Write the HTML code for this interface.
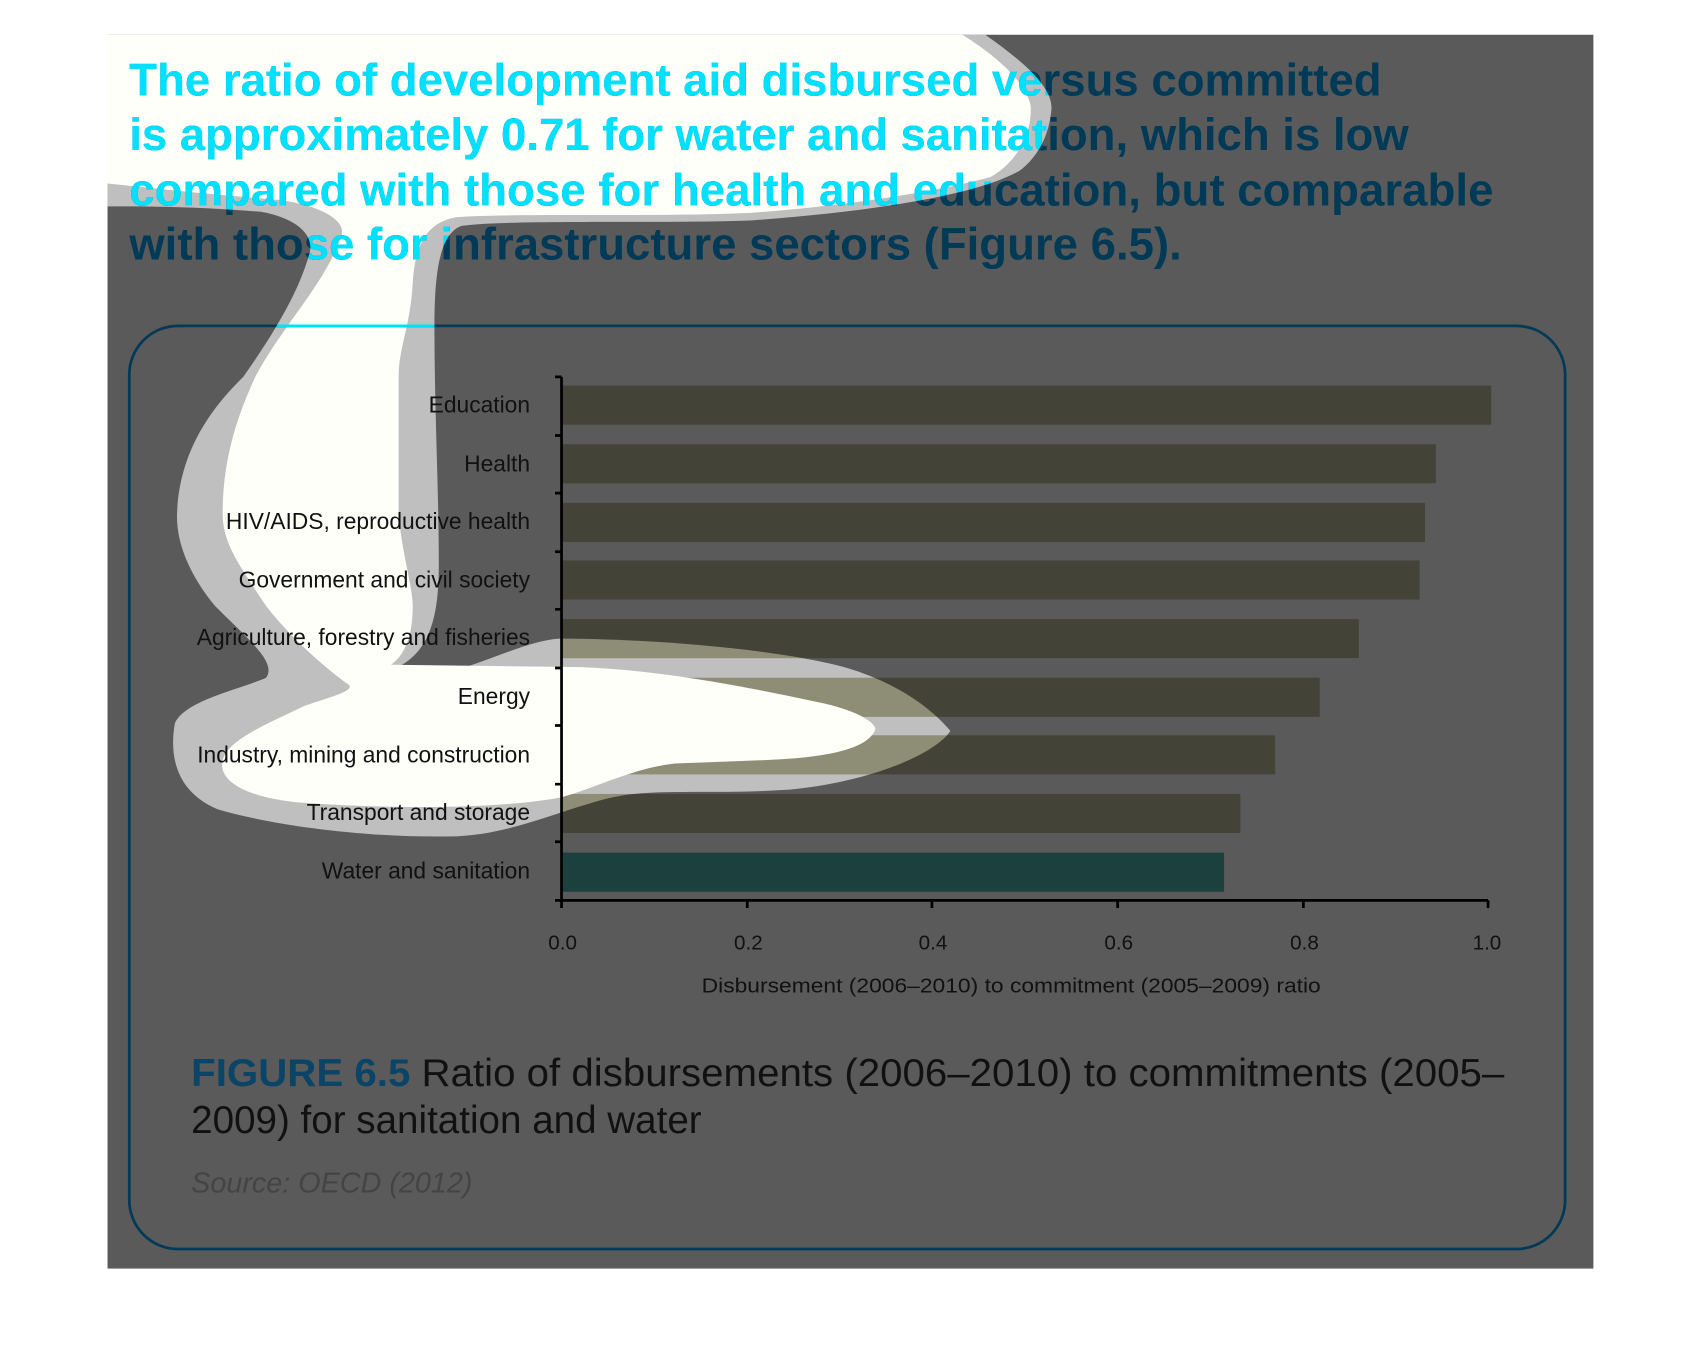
<!DOCTYPE html>
<html><head><meta charset="utf-8"><style>
html,body{margin:0;padding:0;background:#fff;}
svg{display:block;}
</style></head><body>
<svg width="1702" height="1362" viewBox="0 0 1567 1254" preserveAspectRatio="none" xmlns="http://www.w3.org/2000/svg">
<defs>
<clipPath id="blob"><path id="outerp" d="M99,32 L907,32 C940,55 970,80 968,101 C966,125 955,145 939,157 C900,180 800,195 691,203 C600,206 470,202 425,208 C405,215 400,250 400,300 C400,380 404,450 404,520 C404,570 395,600 365,615 C355,622 362,628 380,626 C430,620 480,590 515,588 C600,588 720,598 780,615 C830,630 860,655 875,673 C860,695 800,720 727,727 C650,732 600,725 560,735 C510,748 470,768 420,770 C340,772 250,760 200,745 C165,730 155,700 161,666 C170,645 220,635 245,624 C255,610 230,590 198,558 C175,530 162,500 163,473 C165,420 190,380 224,347 C250,310 275,270 285,233 C290,215 270,200 240,195 C180,190 130,190 99,190 Z"/></clipPath>
</defs>
<rect x="99" y="32" width="1368" height="1136" fill="#5a5a5a"/>
<use href="#outerp" fill="#bfbfbf"/>
<g style="mix-blend-mode:multiply">
<rect x="517" y="355" width="856" height="36" fill="#bdbd9e"/>
<rect x="517" y="409" width="805" height="36" fill="#bdbd9e"/>
<rect x="517" y="463" width="795" height="36" fill="#bdbd9e"/>
<rect x="517" y="516" width="790" height="36" fill="#bdbd9e"/>
<rect x="517" y="570" width="734" height="36" fill="#bdbd9e"/>
<rect x="517" y="624" width="698" height="36" fill="#bdbd9e"/>
<rect x="517" y="677" width="657" height="36" fill="#bdbd9e"/>
<rect x="517" y="731" width="625" height="36" fill="#bdbd9e"/>
<rect x="517" y="785" width="610" height="36" fill="#4fb5b0"/>
</g>
<path d="M99,32 L886,32 C915,50 945,75 949,98 C950,125 935,150 912,163 C880,172 800,188 691,196 C600,200 470,196 420,200 C390,205 382,230 380,260 C378,300 367,320 367,347 C367,400 367,430 367,473 C370,510 380,540 380,558 C380,590 370,605 360,612 L517,614 C600,614 700,635 760,648 C790,655 805,665 806,671 C800,690 760,698 700,700 L621,703 C580,708 550,725 517,734 C460,745 360,745 277,739 C230,735 200,720 205,700 C210,680 250,665 280,650 C310,640 330,635 319,629 C300,615 270,590 245,558 C220,520 205,500 205,473 C205,420 220,380 235,347 C260,300 300,260 314,218 C320,205 300,190 257,184 C180,178 130,172 99,169 Z" fill="#fffffa"/>
<g font-family="'Liberation Sans',sans-serif" font-weight="bold" font-size="42" fill="#003a57">
<rect x="119" y="300" width="1322" height="850" rx="45" fill="none" stroke="#003a57" stroke-width="2.5"/>
<text x="119" y="88" textLength="1153" lengthAdjust="spacingAndGlyphs">The ratio of development aid disbursed versus committed</text>
<text x="119" y="138" textLength="1178" lengthAdjust="spacingAndGlyphs">is approximately 0.71 for water and sanitation, which is low</text>
<text x="119" y="189" textLength="1256" lengthAdjust="spacingAndGlyphs">compared with those for health and education, but comparable</text>
<text x="119" y="239" textLength="969" lengthAdjust="spacingAndGlyphs">with those for infrastructure sectors (Figure 6.5).</text>
</g>
<g clip-path="url(#blob)" font-family="'Liberation Sans',sans-serif" font-weight="bold" font-size="42" fill="#00e0ff">
<rect x="119" y="300" width="1322" height="850" rx="45" fill="none" stroke="#00e0ff" stroke-width="2.5"/>
<text x="119" y="88" textLength="1153" lengthAdjust="spacingAndGlyphs">The ratio of development aid disbursed versus committed</text>
<text x="119" y="138" textLength="1178" lengthAdjust="spacingAndGlyphs">is approximately 0.71 for water and sanitation, which is low</text>
<text x="119" y="189" textLength="1256" lengthAdjust="spacingAndGlyphs">compared with those for health and education, but comparable</text>
<text x="119" y="239" textLength="969" lengthAdjust="spacingAndGlyphs">with those for infrastructure sectors (Figure 6.5).</text>
</g>
<g stroke="#000" stroke-width="2.5" fill="none">
<path d="M517,347 L517,829 L1370,829"/>
<path d="M511,347H517M511,401H517M511,454H517M511,508H517M511,561H517M511,615H517M511,668H517M511,722H517M511,775H517M511,829H517"/>
<path d="M517,829V836M688,829V836M858,829V836M1029,829V836M1200,829V836M1370,829V836"/>
</g>
<g font-family="'Liberation Sans',sans-serif" font-size="21" fill="#111" text-anchor="end">
<text x="488" y="380">Education</text>
<text x="488" y="434">Health</text>
<text x="488" y="487">HIV/AIDS, reproductive health</text>
<text x="488" y="541">Government and civil society</text>
<text x="488" y="594">Agriculture, forestry and fisheries</text>
<text x="488" y="648">Energy</text>
<text x="488" y="702">Industry, mining and construction</text>
<text x="488" y="755">Transport and storage</text>
<text x="488" y="809">Water and sanitation</text>
</g>
<g font-family="'Liberation Sans',sans-serif" font-size="19" fill="#111" text-anchor="middle">
<text x="518" y="874">0.0</text><text x="689" y="874">0.2</text><text x="859" y="874">0.4</text>
<text x="1030" y="874">0.6</text><text x="1201" y="874">0.8</text><text x="1369" y="874">1.0</text>
<text x="931" y="914" textLength="570" lengthAdjust="spacingAndGlyphs">Disbursement (2006–2010) to commitment (2005–2009) ratio</text>
</g>
<g font-family="'Liberation Sans',sans-serif" font-size="36">
<text x="176" y="1000" textLength="1209" lengthAdjust="spacingAndGlyphs"><tspan font-weight="bold" fill="#0a4466">FIGURE 6.5</tspan><tspan fill="#111"> Ratio of disbursements (2006–2010) to commitments (2005–</tspan></text>
<text x="176" y="1043" fill="#111" textLength="470" lengthAdjust="spacingAndGlyphs">2009) for sanitation and water</text>
<text x="176" y="1098" font-size="26" font-style="italic" fill="#444" textLength="259" lengthAdjust="spacingAndGlyphs">Source: OECD (2012)</text>
</g>
</svg>
</body></html>
